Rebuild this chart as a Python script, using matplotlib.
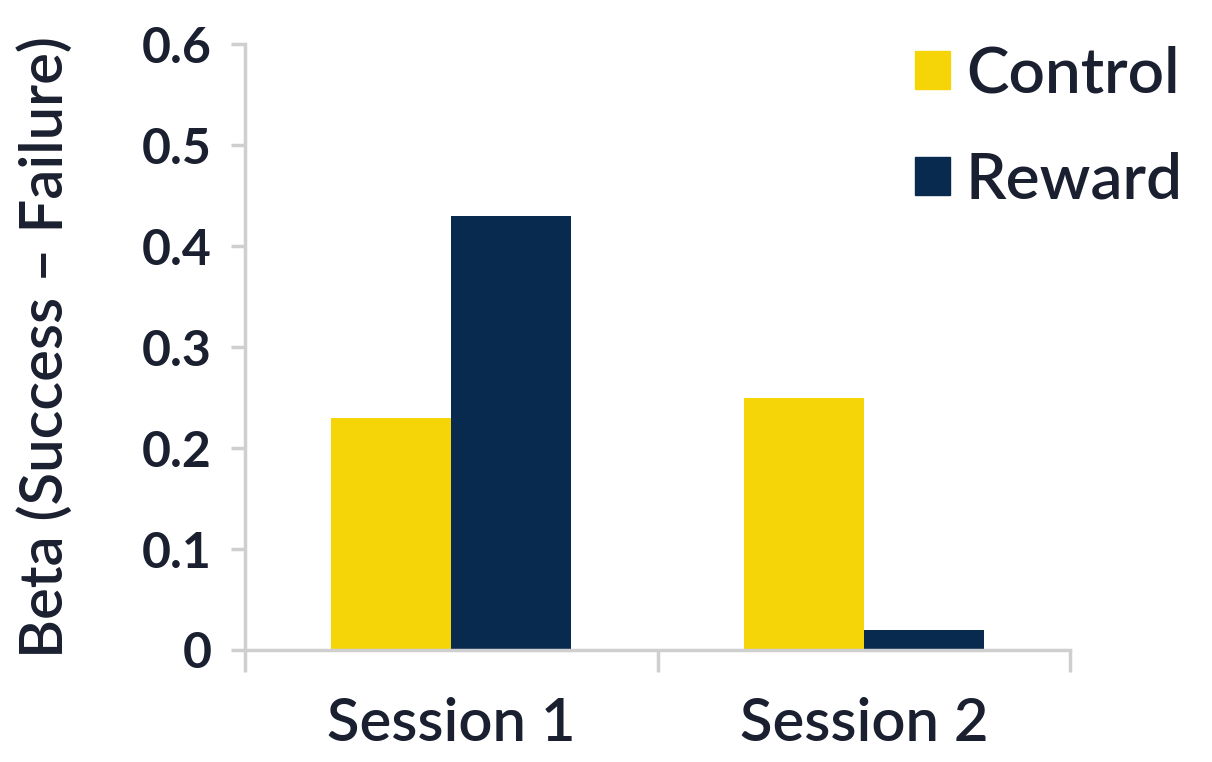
import numpy as np
import matplotlib.pyplot as plt
from matplotlib.patches import Patch

sessions = ["Session 1", "Session 2"]
groups = ["Control", "Reward"]
control = [0.23, 0.25]
reward = [0.43, 0.02]
yticks = [0, 0.1, 0.2, 0.3, 0.4, 0.5, 0.6]
ytick_labels = ["0", "0.1", "0.2", "0.3", "0.4", "0.5", "0.6"]

yellow = "#F5D508"
navy = "#072A4E"
text_col = "#1B2030"
axis_col = "#CFCFCF"

plt.rcParams['font.family'] = ['Lato', 'DejaVu Sans']

fig = plt.figure(figsize=(12.12, 7.62), dpi=100)
ax = fig.add_axes([0.202, 0.147, 0.681, 0.795])

x = np.arange(len(sessions)) + 0.5
w = 0.29
ax.bar(x - w / 2, control, w, color=yellow, label=groups[0])
ax.bar(x + w / 2, reward, w, color=navy, label=groups[1])

ax.set_xlim(0, 2)
ax.set_ylim(0, 0.6)
for s in ["top", "right"]:
    ax.spines[s].set_visible(False)
for s in ["left", "bottom"]:
    ax.spines[s].set_color(axis_col)
    ax.spines[s].set_linewidth(2.5)

ax.set_yticks(yticks)
ax.set_yticklabels(ytick_labels, fontsize=36, fontweight='bold', color=text_col)
ax.tick_params(axis='y', length=10, width=2.5, color=axis_col, pad=14)

ax.set_xticks([0, 1, 2])
ax.set_xticklabels([])
ax.tick_params(axis='x', which='major', length=16, width=2.5, color=axis_col)
ax.set_xticks(x, minor=True)
ax.set_xticklabels(sessions, minor=True, fontsize=43, fontweight='semibold', color=text_col)
ax.tick_params(axis='x', which='minor', length=0, pad=34)

ax.set_ylabel("Beta (Success \u2013 Failure)", fontsize=43, fontweight='semibold',
              color=text_col)
ax.yaxis.set_label_coords(-0.208, 0.50)

handles = [Patch(color=yellow), Patch(color=navy)]
fig.legend(handles, groups, loc='upper right', bbox_to_anchor=(0.976, 0.94),
           frameon=False, handlelength=0.55, handleheight=0.55,
           handletextpad=0.25, labelspacing=0.75, borderaxespad=0, borderpad=0,
           labelcolor=text_col, prop={'weight': 'semibold', 'size': 46})

fig.savefig("out.png", dpi=100)
